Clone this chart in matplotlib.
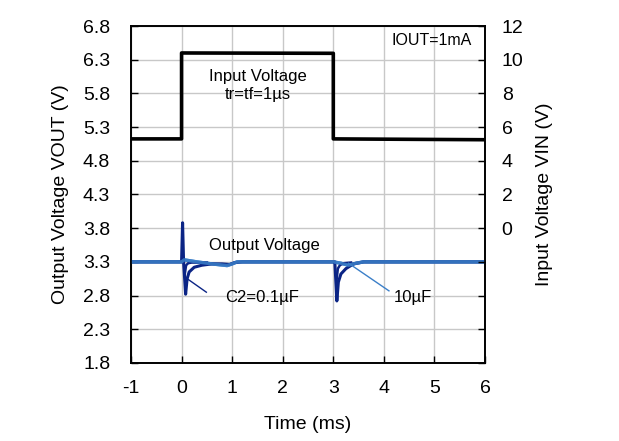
import numpy as np
import matplotlib
matplotlib.use("Agg")
from matplotlib import pyplot as plt

plt.rcParams['font.family'] = ['Liberation Sans', 'DejaVu Sans']
plt.rcParams['axes.unicode_minus'] = False

# input step (right axis, V)
t_in = [-1, 0, 0, 3, 3, 6]
v_in = [5.3, 5.3, 10.4, 10.38, 5.3, 5.25]

# output, C2 = 0.1uF (left axis, V)
t_c01 = [-1, 0.0, 0.02, 0.04, 0.08, 0.11, 0.15, 0.25, 0.4, 0.6, 0.8, 0.95, 1.05, 1.2,
         3.0, 3.03, 3.07, 3.1, 3.15, 3.25, 3.4, 3.6, 6]
v_c01 = [3.3, 3.3, 3.88, 3.3, 2.82, 3.05, 3.15, 3.22, 3.25, 3.27, 3.27, 3.26, 3.29, 3.3,
         3.3, 3.3, 2.72, 3.0, 3.12, 3.2, 3.27, 3.3, 3.3]
# upper edge of the ringing envelope (nan = gap)
t_c01b = [0.06, 0.09, 0.13, 0.2, 0.35, 0.5, np.nan, 3.06, 3.09, 3.13, 3.2, 3.35]
v_c01b = [3.1, 3.25, 3.28, 3.29, 3.29, 3.29, np.nan, 3.0, 3.2, 3.25, 3.28, 3.29]

# output, C2 = 10uF
t_c10 = [-1, 0, 0.05, 0.3, 0.6, 0.9, 1.0, 1.1, 3.0, 3.15, 3.3, 3.45, 3.6, 6]
v_c10 = [3.3, 3.3, 3.33, 3.3, 3.27, 3.245, 3.27, 3.3, 3.3, 3.28, 3.25, 3.28, 3.3, 3.3]

xticks = [-1, 0, 1, 2, 3, 4, 5, 6]
yticks_out = [1.8, 2.3, 2.8, 3.3, 3.8, 4.3, 4.8, 5.3, 5.8, 6.3, 6.8]
yticks_in = [-8, -6, -4, -2, 0, 2, 4, 6, 8, 10, 12]

navy = '#0b2485'
light = '#3b7fc8'

fig = plt.figure(figsize=(6.19, 4.41), dpi=100)
ax = fig.add_axes([0.2116, 0.177, 0.572, 0.764])
ax2 = ax.twinx()

ax.set_xlim(-1, 6)
ax.set_ylim(1.8, 6.8)
ax2.set_ylim(-8, 12)
ax.set_xticks(xticks)
ax.set_yticks(yticks_out)
ax.set_yticklabels(["%.1f" % v for v in yticks_out])
ax2.set_yticks(yticks_in)
ax2.set_yticklabels([str(v) if v >= 0 else "" for v in yticks_in])
ax.grid(True, color='#c8c8c8', linewidth=1.0)
ax.set_axisbelow(True)

for a in (ax, ax2):
    a.tick_params(direction='in', length=5, width=1, labelsize=14, color='black')
    for s in a.spines.values():
        s.set_linewidth(1.2)
ax.tick_params(axis='x', pad=12)
ax.tick_params(axis='y', pad=15)
ax2.tick_params(axis='y', pad=12)

ax.plot(t_c10, v_c10, color=light, lw=2.4, zorder=3)
ax.plot(t_c01, v_c01, color=navy, lw=2.2, zorder=4)
ax.plot(t_c01b, v_c01b, color=navy, lw=1.8, zorder=4)
ax.plot(t_c10, v_c10, color=light, lw=2.4, zorder=5, alpha=0.85)
ax2.plot(t_in, v_in, color='black', lw=2.6, zorder=5)

ax.set_xlabel("Time (ms)", fontsize=14, labelpad=14)
ax.set_ylabel("Output Voltage VOUT (V)", fontsize=14, labelpad=10)
ax2.set_ylabel("Input Voltage VIN (V)", fontsize=14, labelpad=9)

ax.text(1.5, 6.05, "Input Voltage", fontsize=12, ha='center', va='center')
ax.text(1.5, 5.78, "tr=tf=1\u00b5s", fontsize=12, ha='center', va='center')
ax.text(0.55, 3.54, "Output Voltage", fontsize=12, ha='left', va='center')
ax.text(0.87, 2.77, "C2=0.1\u00b5F", fontsize=12, ha='left', va='center')
ax.text(4.2, 2.77, "10\u00b5F", fontsize=12, ha='left', va='center')
ax.text(4.15, 6.58, "IOUT=1mA", fontsize=11.5, ha='left', va='center')
ax.plot([0.49, 0.13], [2.85, 3.04], color=navy, lw=1.0, zorder=6)
ax.plot([4.1, 3.3], [2.87, 3.28], color=light, lw=1.0, zorder=6)

fig.savefig("out.png", dpi=100)
